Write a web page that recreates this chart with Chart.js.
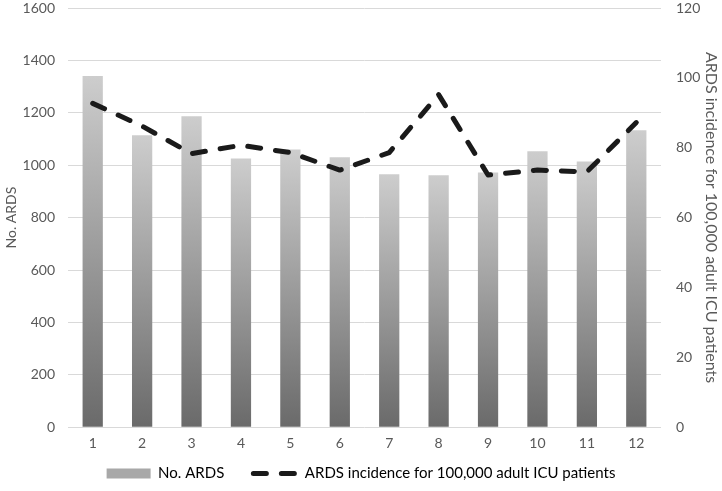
<!DOCTYPE html>
<html>
<head>
<meta charset="utf-8">
<script src="https://cdn.jsdelivr.net/npm/chart.js@4/dist/chart.umd.min.js"></script>
<style>
  html, body { margin: 0; padding: 0; background: #fff; }
  #wrap { width: 722px; height: 491px; position: relative; }
</style>
</head>
<body>
<div id="wrap"><canvas id="c"></canvas></div>
<script>
const categories = ['1','2','3','4','5','6','7','8','9','10','11','12'];
const noArds = [1340, 1114, 1187, 1026, 1060, 1030, 965, 962, 972, 1053, 1014, 1133];
const incidence = [92.7, 86.2, 78.3, 80.7, 78.6, 73.6, 78.6, 95.2, 72.2, 73.6, 73.1, 87.2];
const barLabel = 'No. ARDS';
const lineLabel = 'ARDS incidence for 100,000 adult ICU patients';

const textColor = '#595959';
const fontFamily = 'Lato, "Open Sans", sans-serif';

function barGradient(ctx) {
  const chart = ctx.chart;
  const y = chart.scales && chart.scales.y;
  if (!y || ctx.type !== 'data') return '#a0a0a0';
  const top = y.getPixelForValue(ctx.raw);
  const base = y.getPixelForValue(0);
  if (!isFinite(top) || !isFinite(base) || top === base) return '#a0a0a0';
  const g = chart.ctx.createLinearGradient(0, top, 0, base);
  g.addColorStop(0, '#cdcdcd');
  g.addColorStop(1, '#6a6a6a');
  return g;
}

const plainTick = v => String(v);

new Chart(document.getElementById('c'), {
  data: {
    labels: categories,
    datasets: [
      {
        type: 'line',
        label: lineLabel,
        data: incidence,
        yAxisID: 'y2',
        borderColor: '#1a1a1a',
        borderWidth: 5,
        borderDash: [13, 15],
        borderCapStyle: 'round',
        borderJoinStyle: 'round',
        pointRadius: 0,
        fill: false,
        tension: 0,
        order: 0
      },
      {
        type: 'bar',
        label: barLabel,
        data: noArds,
        yAxisID: 'y',
        backgroundColor: barGradient,
        borderWidth: 0,
        categoryPercentage: 1,
        barPercentage: 0.41,
        order: 1
      }
    ]
  },
  options: {
    responsive: true,
    maintainAspectRatio: false,
    animation: false,
    layout: { padding: { left: 0, right: 0, top: 0, bottom: 0 } },
    plugins: {
      tooltip: { enabled: false },
      legend: {
        position: 'bottom',
        labels: {
          color: textColor,
          font: { family: fontFamily, size: 15 },
          usePointStyle: true,
          pointStyleWidth: 44,
          boxHeight: 10,
          padding: 6,
          generateLabels: function(chart) {
            return [
              {
                text: barLabel + '      ',
                fillStyle: '#a8a8a8',
                strokeStyle: '#a8a8a8',
                lineWidth: 0,
                pointStyle: 'rect',
                datasetIndex: 1,
                hidden: false
              },
              {
                text: lineLabel,
                fillStyle: '#1a1a1a',
                strokeStyle: '#1a1a1a',
                lineWidth: 5,
                lineDash: [13, 15],
                lineCap: 'round',
                pointStyle: 'line',
                datasetIndex: 0,
                hidden: false
              }
            ];
          }
        }
      }
    },
    scales: {
      x: {
        grid: { display: false, drawTicks: false },
        border: { display: false },
        ticks: { color: textColor, font: { family: fontFamily, size: 14 }, padding: 8 }
      },
      y: {
        position: 'left',
        min: 0,
        max: 1600,
        ticks: { stepSize: 200, color: textColor, font: { family: fontFamily, size: 14 }, padding: 13, callback: plainTick },
        grid: { color: '#d9d9d9', lineWidth: 1, drawTicks: false },
        border: { display: false },
        title: { display: true, text: barLabel, color: textColor, font: { family: fontFamily, size: 14 }, padding: { top: 3, bottom: 0 } },
        afterFit: s => { s.width = 68; s.paddingTop = 8; s.paddingBottom = 8; }
      },
      y2: {
        position: 'right',
        min: 0,
        max: 120,
        ticks: { stepSize: 20, color: textColor, font: { family: fontFamily, size: 14 }, padding: 15, callback: plainTick },
        grid: { display: false, drawTicks: false },
        border: { display: false },
        title: { display: true, text: lineLabel, color: textColor, font: { family: fontFamily, size: 16 }, padding: { top: 1, bottom: 0 } },
        afterFit: s => { s.width = 61; s.paddingTop = 8; s.paddingBottom = 8; }
      }
    }
  }
});
</script>
</body>
</html>
